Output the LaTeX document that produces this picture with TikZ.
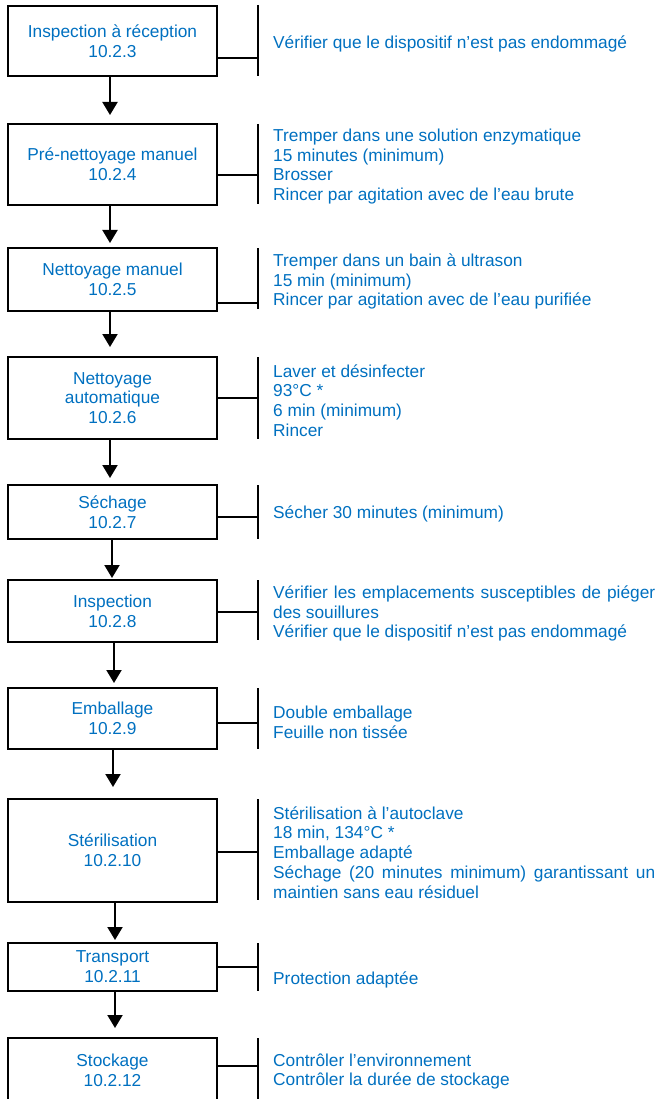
\documentclass[tikz,border=0pt]{standalone}
\usepackage{fontspec}
\setmainfont{Liberation Sans}
\usetikzlibrary{arrows.meta,positioning}
\definecolor{stepblue}{HTML}{0070C0}
\setlength{\parindent}{0pt}

\begin{document}
\begin{tikzpicture}[
            x=1pt, y=-1pt,
            stepbox/.style={rectangle, draw, line width=2pt, text=stepblue, align=center, minimum width=209pt, inner sep=2pt, font=\fontsize{17.3}{19.8}\selectfont},
            note/.style={anchor=west, inner sep=0pt, text=stepblue, align=left, yshift=-1.5pt, font=\fontsize{17.3}{19.8}\selectfont},
            longnote/.style={note, text width=382pt, align=justify},
            bar/.style={line width=2pt},
            link/.style={line width=1.5pt},
            arrow/.style={-{Triangle[width=15pt,length=13pt]}, line width=2pt}
        ]
            \useasboundingbox (0,0) rectangle (657,1099);

            % Steps
            \node[stepbox, minimum height=70pt] (insp) at (112.5,41) {Inspection à réception\\10.2.3};
            \node[stepbox, minimum height=81pt] (prenet) at (112.5,164.5) {Pré-nettoyage manuel\\10.2.4};
            \node[stepbox, minimum height=63pt] (netman) at (112.5,279.5) {Nettoyage manuel\\10.2.5};
            \node[stepbox, minimum height=82pt] (netauto) at (112.5,398) {Nettoyage\\automatique\\10.2.6};
            \node[stepbox, minimum height=54pt] (sech) at (112.5,512) {Séchage\\10.2.7};
            \node[stepbox, minimum height=62pt] (inspect) at (112.5,611) {Inspection\\10.2.8};
            \node[stepbox, minimum height=61pt] (emb) at (112.5,718.5) {Emballage\\10.2.9};
            \node[stepbox, minimum height=103pt] (steril) at (112.5,850.5) {Stérilisation\\10.2.10};
            \node[stepbox, minimum height=48pt] (transp) at (112.5,967) {Transport\\10.2.11};
            \node[stepbox, minimum height=64pt] (stock) at (112.5,1070) {Stockage\\10.2.12};

            % Bars and junctions
            \draw[bar] (258,5) -- (258,76);
            \coordinate (j1) at (258,58);
            \draw[bar] (258,124) -- (258,204);
            \coordinate (j2) at (258,175);
            \draw[bar] (258,248) -- (258,309);
            \coordinate (j3) at (258,303);
            \draw[bar] (258,357) -- (258,439);
            \coordinate (j4) at (258,398);
            \draw[bar] (258,485) -- (258,539);
            \coordinate (j5) at (258,517);
            \draw[bar] (258,580) -- (258,640);
            \coordinate (j6) at (258,612);
            \draw[bar] (258,688) -- (258,749);
            \coordinate (j7) at (258,723);
            \draw[bar] (258,799) -- (258,900);
            \coordinate (j8) at (258,852);
            \draw[bar] (258,943) -- (258,991);
            \coordinate (j9) at (258,967);
            \draw[bar] (258,1038) -- (258,1110);
            \coordinate (j10) at (258,1066);

            % Actions
            \node[note] (act1) at (273,42) {Vérifier que le dispositif n’est pas endommagé};
            \node[note] (act2) at (273,165) {Tremper dans une solution enzymatique\\15 minutes (minimum)\\Brosser\\Rincer par agitation avec de l’eau brute};
            \node[note] (act3) at (273,280) {Tremper dans un bain à ultrason\\15 min (minimum)\\Rincer par agitation avec de l’eau purifiée};
            \node[note] (act4) at (273,399) {Laver et désinfecter\\93°C *\\6 min (minimum)\\Rincer};
            \node[note] (act5) at (273,512) {Sécher 30 minutes (minimum)};
            \node[longnote] (act6) at (273,612) {Vérifier les emplacements susceptibles de piéger\linebreak des souillures\newline Vérifier que le dispositif n’est pas endommagé};
            \node[note] (act7) at (273,721) {Double emballage\\Feuille non tissée};
            \node[longnote] (act8) at (273,851) {Stérilisation à l’autoclave\newline 18 min, 134°C *\newline Emballage adapté\newline Séchage (20 minutes minimum) garantissant un\linebreak maintien sans eau résiduel};
            \node[note] (act9) at (273,978) {Protection adaptée};
            \node[note] (act10) at (273,1070) {Contrôler l’environnement\\Contrôler la durée de stockage};

            % Links
            \draw[link] (insp.east |- j1) -- (j1);
            \draw[link] (prenet.east |- j2) -- (j2);
            \draw[link] (netman.east |- j3) -- (j3);
            \draw[link] (netauto.east |- j4) -- (j4);
            \draw[link] (sech.east |- j5) -- (j5);
            \draw[link] (inspect.east |- j6) -- (j6);
            \draw[link] (emb.east |- j7) -- (j7);
            \draw[link] (steril.east |- j8) -- (j8);
            \draw[link] (transp.east |- j9) -- (j9);
            \draw[link] (stock.east |- j10) -- (j10);

            % Arrows
            \draw[arrow, shorten >=8pt] ([xshift=-2.5pt]insp.south) -- ([xshift=-2.5pt]prenet.north);
            \draw[arrow, shorten >=4pt] ([xshift=-2.5pt]prenet.south) -- ([xshift=-2.5pt]netman.north);
            \draw[arrow, shorten >=9pt] ([xshift=-2.5pt]netman.south) -- ([xshift=-2.5pt]netauto.north);
            \draw[arrow, shorten >=6pt] ([xshift=-2.5pt]netauto.south) -- ([xshift=-2.5pt]sech.north);
            \draw[arrow, shorten >=1pt] ([xshift=-0.5pt]sech.south) -- ([xshift=-0.5pt]inspect.north);
            \draw[arrow, shorten >=4pt] ([xshift=1.5pt]inspect.south) -- ([xshift=1.5pt]emb.north);
            \draw[arrow, shorten >=11pt] ([xshift=0.5pt]emb.south) -- ([xshift=0.5pt]steril.north);
            \draw[arrow, shorten >=2pt] ([xshift=2.5pt]steril.south) -- ([xshift=2.5pt]transp.north);
            \draw[arrow, shorten >=9pt] ([xshift=2.5pt]transp.south) -- ([xshift=2.5pt]stock.north);
        \end{tikzpicture}
\end{document}
